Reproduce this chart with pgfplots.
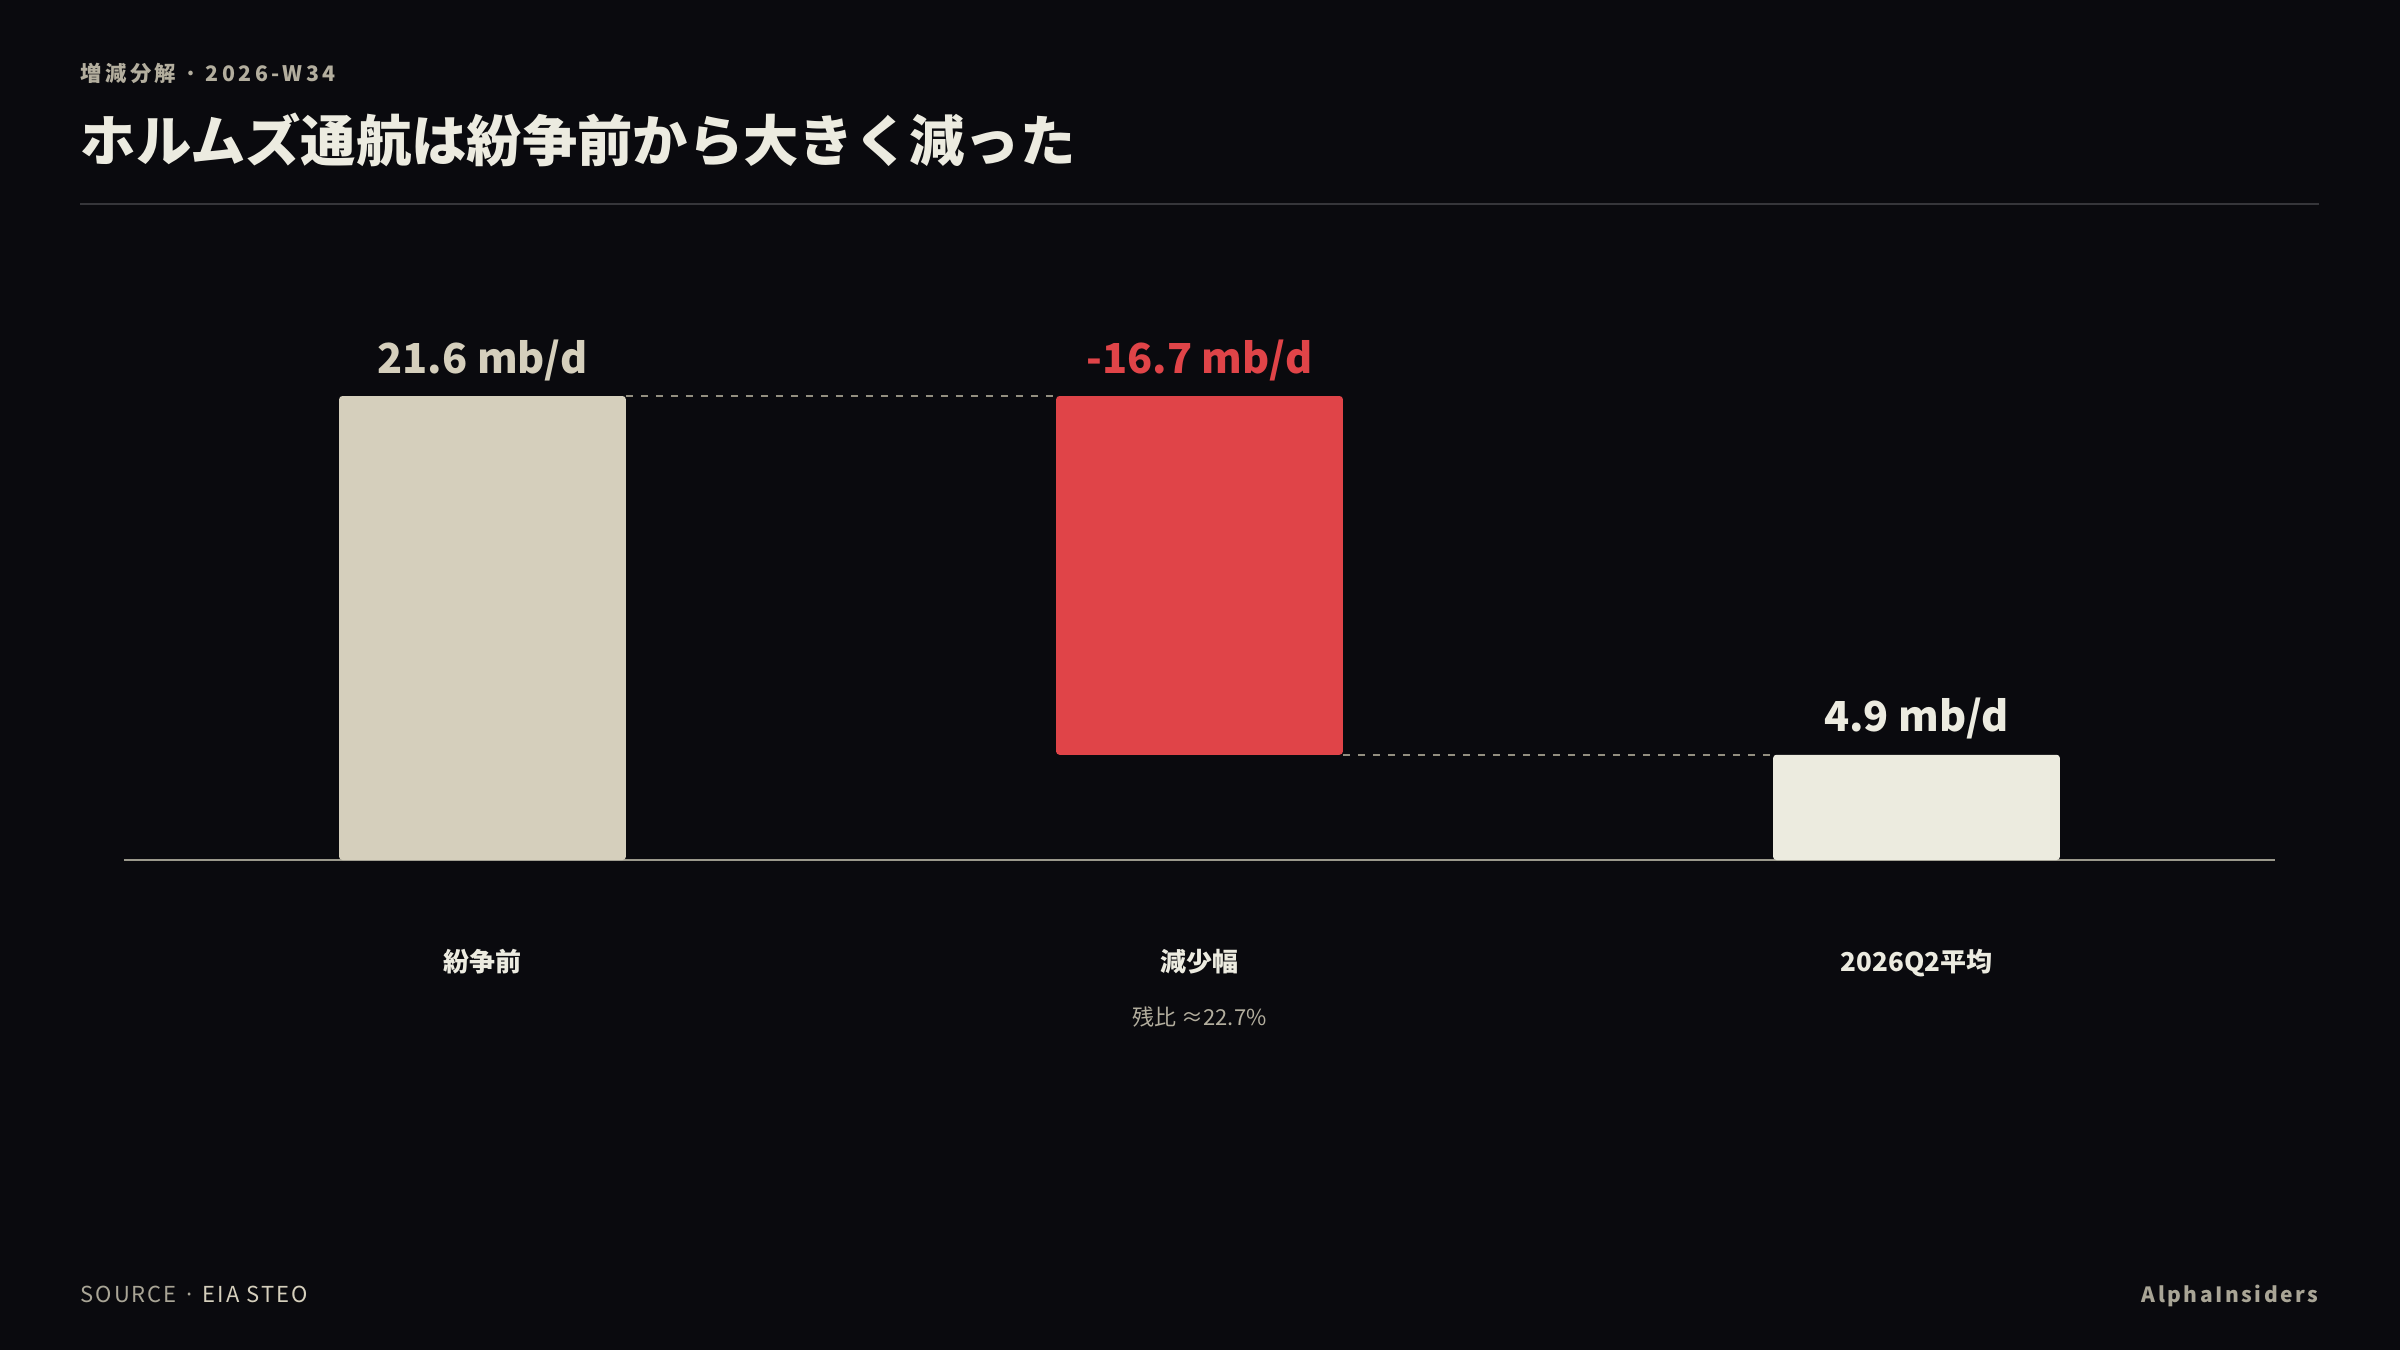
\documentclass[border=0pt]{standalone}
\usepackage{fontspec}
\setmainfont{Noto Sans CJK JP}
\usepackage{pgfplots}
\pgfplotsset{compat=1.18}
\definecolor{bg}{HTML}{0A0A0E}
\definecolor{light}{HTML}{ECEBE0}
\definecolor{muted}{HTML}{B3AE9E}
\definecolor{foot}{HTML}{A9A596}
\definecolor{footb}{HTML}{D5CFBC}
\definecolor{rulec}{HTML}{36363A}
\definecolor{axisc}{HTML}{9B998C}
\definecolor{dashc}{HTML}{938F80}
\definecolor{barone}{HTML}{D5CFBC}
\definecolor{redc}{HTML}{E04448}
\definecolor{barthree}{HTML}{ECEBDF}
\begin{document}
\begin{tikzpicture}
\useasboundingbox (0,0) rectangle (720pt,405pt);
\fill[bg] (0,0) rectangle (720pt,405pt);
\node[anchor=base west, inner sep=0, text=muted, font=\fontsize{6.4}{7}\selectfont\bfseries\addfontfeature{LetterSpace=16}] at (24pt,380.4pt) {増減分解 · 2026-W34};
\node[anchor=base west, inner sep=0, text=light, font=\fontsize{16.6}{18}\selectfont\bfseries] at (24pt,356.4pt) {ホルムズ通航は紛争前から大きく減った};
\draw[rulec, line width=0.45pt] (24pt,343.8pt) -- (695.7pt,343.8pt);
\begin{axis}[at={(37.2pt,147pt)}, anchor=south west, scale only axis,
  width=645.3pt, height=161.1pt, xmin=-0.5, xmax=2.5, ymin=0, ymax=25,
  axis line style={draw=none}, ytick=\empty, xtick={0,1,2},
  xticklabels={紛争前,減少幅,2026Q2平均}, major tick length=0pt,
  xticklabel style={anchor=base, yshift=-33.3pt, text=light, font=\fontsize{7.8}{9}\selectfont\bfseries},
  ybar stacked, bar width=0.4, clip=false]
\addplot[draw=none, fill=none] coordinates {(0,0) (1,4.9) (2,0)};
\addplot[draw=none, fill=barone, rounded corners=1pt] coordinates {(0,21.6) (1,0) (2,0)};
\addplot[draw=none, fill=redc, rounded corners=1pt] coordinates {(0,0) (1,16.7) (2,0)};
\addplot[draw=none, fill=barthree, rounded corners=1pt] coordinates {(0,0) (1,0) (2,4.9)};
\draw[dashc, line width=0.7pt, dash pattern=on 2.1pt off 2.4pt] (axis cs:0.2,21.6) -- (axis cs:0.8,21.6);
\draw[dashc, line width=0.7pt, dash pattern=on 2.1pt off 2.4pt] (axis cs:1.2,4.9) -- (axis cs:1.8,4.9);
\draw[axisc, line width=0.45pt] (axis cs:-0.5,0) -- (axis cs:2.5,0);
\node[anchor=base, yshift=6.9pt, inner sep=0, text=barone, font=\fontsize{12.4}{14}\selectfont\bfseries] at (axis cs:0,21.6) {21.6 mb/d};
\node[anchor=base, yshift=6.9pt, inner sep=0, text=redc, font=\fontsize{12.4}{14}\selectfont\bfseries] at (axis cs:1,21.6) {-16.7 mb/d};
\node[anchor=base, yshift=6.9pt, inner sep=0, text=light, font=\fontsize{12.4}{14}\selectfont\bfseries] at (axis cs:2,4.9) {4.9 mb/d};
\node[anchor=base, yshift=-49.5pt, inner sep=0, text=muted, font=\fontsize{6.6}{8}\selectfont] at (axis cs:1,0) {残比 ≈22.7\%};
\end{axis}
\node[anchor=base west, inner sep=0, font=\fontsize{6.6}{7}\selectfont\addfontfeature{LetterSpace=9}] at (24pt,14.4pt) {\textcolor{foot}{SOURCE ·} \textcolor{footb}{EIA STEO}};
\node[anchor=base east, inner sep=0, text=foot, font=\fontsize{6.3}{7}\selectfont\bfseries\addfontfeature{LetterSpace=12}] at (695.7pt,14.4pt) {AlphaInsiders};
\end{tikzpicture}
\end{document}
